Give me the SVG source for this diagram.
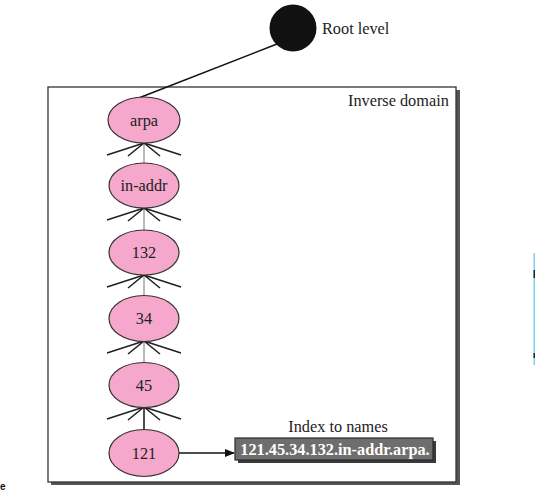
<svg xmlns="http://www.w3.org/2000/svg" width="535" height="491" viewBox="0 0 535 491">
<style>
.lbl{font-family:"Liberation Serif","Times New Roman",serif;font-size:16.3px;fill:#222}
.nt{font-family:"Liberation Serif","Times New Roman",serif;font-size:16.3px;fill:#222;text-anchor:middle}
.node{fill:#f5a8cc;stroke:#333;stroke-width:1.2}
.fan{stroke:#222;stroke-width:1.6;fill:none}
.stem{stroke:#777;stroke-width:1}
</style>
<defs>
<marker id="ah" markerWidth="10" markerHeight="8" refX="9" refY="4" orient="auto" markerUnits="userSpaceOnUse">
<path d="M0,0 L10,4 L0,8 Z" fill="#111"/>
</marker>
<g id="fanshape">
<path class="fan" d="M0,0 L-37,12 M0,0 L-16,13 M0,0 L16,13 M0,0 L37,12"/>
</g>
</defs>
<rect x="0" y="0" width="535" height="491" fill="#fff"/>
<g id="frame">
<rect x="51" y="90" width="409" height="395" fill="#555"/>
<rect x="48" y="87" width="408" height="395" fill="#fff" stroke="#333" stroke-width="1.3"/>
<text class="lbl" x="348" y="106">Inverse domain</text>
</g>
<g id="connectors">
<line x1="277" y1="44" x2="140" y2="97.5" stroke="#111" stroke-width="1.5"/>
<line class="stem" x1="144" y1="143" x2="144" y2="163"/>
<line class="stem" x1="144" y1="208" x2="144" y2="230"/>
<line class="stem" x1="144" y1="275" x2="144" y2="295"/>
<line class="stem" x1="144" y1="341" x2="144" y2="362"/>
<line x1="144" y1="407" x2="144" y2="430" stroke="#222" stroke-width="1.6"/>
<use href="#fanshape" x="144" y="143"/>
<use href="#fanshape" x="144" y="208"/>
<use href="#fanshape" x="144" y="275"/>
<use href="#fanshape" x="144" y="341"/>
<use href="#fanshape" x="144" y="407"/>
<line x1="179" y1="453" x2="234" y2="453" stroke="#111" stroke-width="1.4" marker-end="url(#ah)"/>
</g>
<g id="root">
<circle cx="293" cy="28" r="23.5" fill="#111"/>
<text class="lbl" x="322" y="34">Root level</text>
</g>
<g id="n-arpa">
<ellipse class="node" cx="144" cy="120" rx="36" ry="23"/>
<text class="nt" x="144" y="125.5">arpa</text>
</g>
<g id="n-inaddr">
<ellipse class="node" cx="144" cy="185.5" rx="35" ry="22.5"/>
<text class="nt" x="144" y="191">in-addr</text>
</g>
<g id="n-132">
<ellipse class="node" cx="144" cy="252.5" rx="35" ry="22.5"/>
<text class="nt" x="144" y="258">132</text>
</g>
<g id="n-34">
<ellipse class="node" cx="144" cy="318.5" rx="35" ry="23"/>
<text class="nt" x="144" y="324">34</text>
</g>
<g id="n-45">
<ellipse class="node" cx="144" cy="385" rx="35" ry="22.5"/>
<text class="nt" x="144" y="390.5">45</text>
</g>
<g id="n-121">
<ellipse class="node" cx="144" cy="453" rx="35" ry="23.5"/>
<text class="nt" x="144" y="458.5">121</text>
</g>
<g id="index">
<text class="nt" x="338" y="432">Index to names</text>
<rect x="238" y="441" width="198" height="22" fill="#3a3a3a"/>
<rect x="235" y="438" width="198" height="22" fill="#6e6e6e" stroke="#2a2a2a" stroke-width="1.2"/>
<text x="335" y="455" text-anchor="middle" font-family="Liberation Serif, Times New Roman, serif" font-size="16.3" font-weight="bold" fill="#fff">121.45.34.132.in-addr.arpa.</text>
</g>
<g id="artifacts">
<rect x="533.5" y="253" width="1.5" height="112" fill="#7fd3f0"/>
<rect x="533.5" y="270" width="1.5" height="8" fill="#222"/>
<rect x="533.5" y="353" width="1.5" height="5" fill="#222"/>
<text x="0" y="490" font-family="Liberation Sans, Arial, sans-serif" font-size="10" font-weight="bold" fill="#111">e</text>
</g>
</svg>
